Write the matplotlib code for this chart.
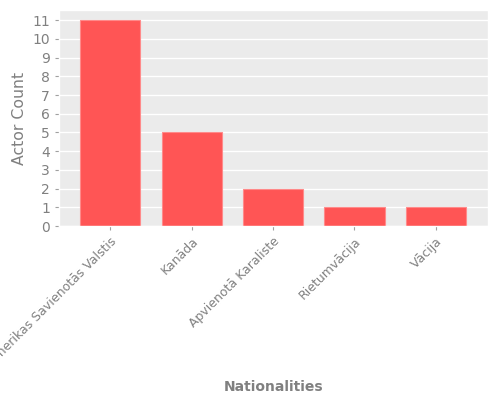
import matplotlib

matplotlib.use("Agg")
import matplotlib.pyplot as plt

nationalities = [
    "Amerikas Savienotās Valstis",
    "Kanāda",
    "Apvienotā Karaliste",
    "Rietumvācija",
    "Vācija",
]
actor_counts = [11, 5, 2, 1, 1]

plt.style.use("ggplot")

fig, ax = plt.subplots(figsize=(5, 4), dpi=100)
ax.set_facecolor("#EBEBEB")
x = list(range(len(nationalities)))
ax.bar(x, actor_counts, width=0.74, color="#FF5555", edgecolor="#FF8A8A", linewidth=0.8)

ax.set_xticks(x)
ax.set_xticklabels(nationalities, rotation=45, ha="right", va="top", rotation_mode="anchor",
                   color="#808080", fontsize=9)
ax.set_yticks(range(0, 12))
ax.tick_params(axis="y", labelcolor="#808080", labelsize=10)
ax.tick_params(axis="both", color="#A0A0A0", length=3)
ax.set_xlim(-0.63, 4.64)
ax.set_ylim(0, 11.55)

ax.set_xlabel("Nationalities", fontsize=10, fontweight="bold", color="#808080")
ax.xaxis.set_label_coords(0.5, -0.715)
ax.set_ylabel("Actor Count", fontsize=11.3, color="#808080")
ax.grid(False)
ax.grid(True, axis="y", color="white", linewidth=1)
ax.set_axisbelow(True)

fig.subplots_adjust(left=0.118, right=0.976, top=0.975, bottom=0.435)
fig.savefig("out.png")
